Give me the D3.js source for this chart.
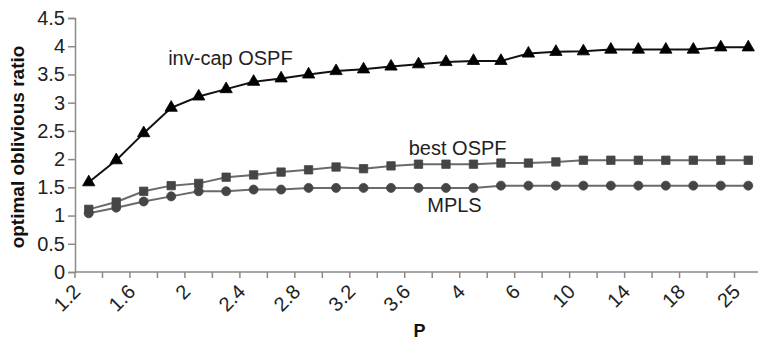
<!DOCTYPE html>
<html>
<head>
<meta charset="utf-8">
<script src="https://cdn.jsdelivr.net/npm/d3@7"></script>
<style>
  body { margin: 0; background: #fff; }
  svg { display: block; font-family: Arial, "Liberation Sans", sans-serif; }
</style>
</head>
<body>
<script>
// x categories (P values), every other one gets a label
var pValues = ["1.2","1.4","1.6","1.8","2","2.2","2.4","2.6","2.8","3","3.2","3.4","3.6","3.8","4",
               "5","6","8","10","12","14","16","18","20","25"];

// series
var invCapOspf = [1.59,1.98,2.46,2.91,3.11,3.24,3.37,3.43,3.50,3.56,3.59,3.64,3.68,3.72,3.74,
                  3.74,3.87,3.90,3.91,3.94,3.94,3.94,3.94,3.98,3.98];
var bestOspf   = [1.11,1.24,1.43,1.53,1.57,1.68,1.72,1.77,1.81,1.86,1.83,1.88,1.91,1.91,1.91,
                  1.93,1.93,1.95,1.98,1.98,1.98,1.98,1.98,1.98,1.98];
var mpls       = [1.04,1.14,1.25,1.34,1.43,1.43,1.46,1.46,1.49,1.49,1.49,1.49,1.49,1.49,1.49,
                  1.53,1.53,1.53,1.53,1.53,1.53,1.53,1.53,1.53,1.53];

var yTicks = [0,0.5,1,1.5,2,2.5,3,3.5,4,4.5];

var width = 758, height = 344;
var margin = {top: 18, left: 75, right: -4, bottom: 72};

var svg = d3.select("body").append("svg")
    .attr("width", width)
    .attr("height", height);

var xScale = d3.scaleBand()
    .domain(pValues)
    .range([margin.left, width - margin.right]);

var yScale = d3.scaleLinear()
    .domain([0, 4.5])
    .range([height - margin.bottom, margin.top]);

var bw = xScale.bandwidth();
function cx(i) { return xScale(pValues[i]) + bw / 2; }

var axisColor = "#8a8a8a";

// y axis
var yAxis = svg.append("g")
    .attr("transform", `translate(${margin.left},0)`)
    .call(d3.axisLeft(yScale).tickValues(yTicks).tickSize(7).tickPadding(3)
          .tickFormat(function(d) { return String(d); }));
yAxis.select(".domain").attr("stroke", axisColor).attr("stroke-width", 1.5);
yAxis.selectAll(".tick line").attr("stroke", axisColor).attr("stroke-width", 1.5);
yAxis.selectAll("text").attr("fill", "#222").style("font-size", "20px");

// x axis: line + tick marks on the category boundaries
var xAxis = svg.append("g")
    .attr("transform", `translate(0,${yScale(0)})`);
xAxis.append("line")
    .attr("x1", xScale.range()[0]).attr("x2", xScale.range()[1])
    .attr("stroke", axisColor).attr("stroke-width", 1.5);
var bounds = pValues.map(function(p) { return xScale(p); }).concat([xScale.range()[1]]);
xAxis.selectAll("line.tk")
    .data(bounds)
    .enter().append("line")
    .attr("class", "tk")
    .attr("x1", function(d) { return d; }).attr("x2", function(d) { return d; })
    .attr("y1", 0).attr("y2", 6)
    .attr("stroke", axisColor).attr("stroke-width", 1.5);

xAxis.selectAll("text.lbl")
    .data(pValues.filter(function(p, i) { return i % 2 === 0; }))
    .enter().append("text")
    .attr("class", "lbl")
    .attr("text-anchor", "end")
    .attr("fill", "#222")
    .style("font-size", "20px")
    .attr("transform", function(d) {
        return "translate(" + (xScale(d) + bw / 2 - 7) + ",21) rotate(-45)";
    })
    .text(function(d) { return d; });

// lines and markers
var line = d3.line()
    .x(function(d, i) { return cx(i); })
    .y(function(d) { return yScale(d); });

var series = [
    {values: mpls,       stroke: "#6a6a6a", fill: "#454545", symbol: d3.symbolCircle,   size: 64},
    {values: bestOspf,   stroke: "#6a6a6a", fill: "#454545", symbol: d3.symbolSquare,   size: 70},
    {values: invCapOspf, stroke: "#111",    fill: "#000",    symbol: d3.symbolTriangle, size: 66}
];

series.forEach(function(s) {
    svg.append("path")
        .datum(s.values)
        .attr("fill", "none")
        .attr("stroke", s.stroke)
        .attr("stroke-width", 2)
        .attr("d", line);

    svg.append("g").selectAll("path")
        .data(s.values)
        .enter().append("path")
        .attr("transform", function(d, i) { return "translate(" + cx(i) + "," + yScale(d) + ")"; })
        .attr("d", d3.symbol().type(s.symbol).size(s.size))
        .attr("fill", s.fill)
        .attr("stroke", s.fill)
        .attr("stroke-width", 0.8);
});

// series labels inside the plot
svg.append("text")
    .attr("x", cx(3) - 3).attr("y", yScale(3.66))
    .style("font-size", "20px").attr("fill", "#222")
    .text("inv-cap OSPF");
svg.append("text")
    .attr("x", xScale("3.6") + 4).attr("y", yScale(2.08))
    .style("font-size", "20px").attr("fill", "#222")
    .text("best OSPF");
svg.append("text")
    .attr("x", xScale("3.8") - 5).attr("y", yScale(1.07))
    .style("font-size", "20px").attr("fill", "#222")
    .text("MPLS");

// axis titles
svg.append("text")
    .attr("transform", "translate(24," + ((yScale(0) + yScale(4.5)) / 2 + 2) + ") rotate(-90)")
    .attr("text-anchor", "middle")
    .style("font-size", "19px").style("font-weight", "bold").attr("fill", "#111")
    .text("optimal oblivious ratio");

svg.append("text")
    .attr("x", (xScale.range()[0] + xScale.range()[1]) / 2 + 1)
    .attr("y", 337)
    .attr("text-anchor", "middle")
    .style("font-size", "18px").style("font-weight", "bold").attr("fill", "#111")
    .text("P");
</script>
</body>
</html>
